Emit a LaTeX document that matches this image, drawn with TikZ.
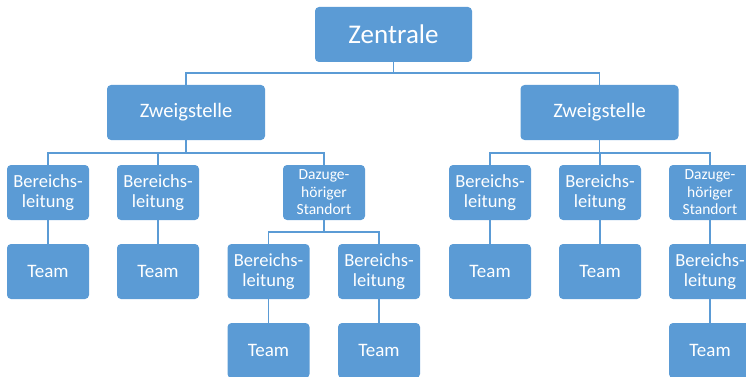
\documentclass[tikz,border=0pt]{standalone}
\usepackage{fontspec}
\setmainfont{Carlito}
\definecolor{boxblue}{HTML}{5B9BD5}
\begin{document}
\begin{tikzpicture}[x=1pt,y=-1pt,
  box/.style={fill=boxblue, rounded corners=4pt, text=white, align=center, inner sep=0pt},
  small/.style={box, minimum width=82pt, minimum height=55pt},
  bl/.style={small, font=\fontsize{18.5}{20}\selectfont},
  dz/.style={small, font=\fontsize{15.5}{17.5}\selectfont},
  tm/.style={small, font=\fontsize{19}{22}\selectfont},
  zw/.style={box, minimum width=158pt, minimum height=55pt, font=\fontsize{20.5}{24}\selectfont},
  conn/.style={draw=boxblue, line width=1.8pt}]
\useasboundingbox (0,0) rectangle (746,377);
\node[box, minimum width=157pt, minimum height=55pt, font=\fontsize{27}{30}\selectfont] (z) at (393.5,34.5) {Zentrale};
\node[zw] (zl) at (186,112.5) {Zweigstelle};
\node[zw] (zr) at (599.5,112.5) {Zweigstelle};
% left group
\node[bl] (a1) at (48,192.5) {Bereichs-\\leitung};
\node[bl] (a2) at (158,192.5) {Bereichs-\\leitung};
\node[dz] (a3) at (324,192.5) {Dazuge-\\höriger\\Standort};
\node[tm] (ta1) at (48,271.5) {Team};
\node[tm] (ta2) at (158,271.5) {Team};
\node[bl] (s1) at (268.5,271.5) {Bereichs-\\leitung};
\node[bl] (s2) at (379,271.5) {Bereichs-\\leitung};
\node[tm] (ts1) at (268.5,350.5) {Team};
\node[tm] (ts2) at (379,350.5) {Team};
% right group
\node[bl] (b1) at (490,192.5) {Bereichs-\\leitung};
\node[bl] (b2) at (600,192.5) {Bereichs-\\leitung};
\node[dz] (b3) at (710,192.5) {Dazuge-\\höriger\\Standort};
\node[tm] (tb1) at (490,271.5) {Team};
\node[tm] (tb2) at (600,271.5) {Team};
\node[bl] (r1) at (710,271.5) {Bereichs-\\leitung};
\node[tm] (tr1) at (710,350.5) {Team};
% connectors
\draw[conn] (z.south) -- ++(0,11) coordinate (j1);
\draw[conn] (zl.north) |- (j1) -| (zr.north);
\draw[conn] (zl.south) -- ++(0,13) coordinate (j2);
\draw[conn] (a1.north) |- (j2) -| (a3.north);
\draw[conn] (a2.north) -- (a2.north |- j2);
\draw[conn] (zr.south) -- ++(0,13) coordinate (j3);
\draw[conn] (b1.north) |- (j3) -| (b3.north);
\draw[conn] (b2.north) -- (b2.north |- j3);
\draw[conn] (a3.south) -- ++(0,12) coordinate (j4);
\draw[conn] (s1.north) |- (j4) -| (s2.north);
\draw[conn] (a1) -- (ta1);
\draw[conn] (a2) -- (ta2);
\draw[conn] (s1) -- (ts1);
\draw[conn] (s2) -- (ts2);
\draw[conn] (b1) -- (tb1);
\draw[conn] (b2) -- (tb2);
\draw[conn] (b3) -- (r1);
\draw[conn] (r1) -- (tr1);
\end{tikzpicture}
\end{document}
